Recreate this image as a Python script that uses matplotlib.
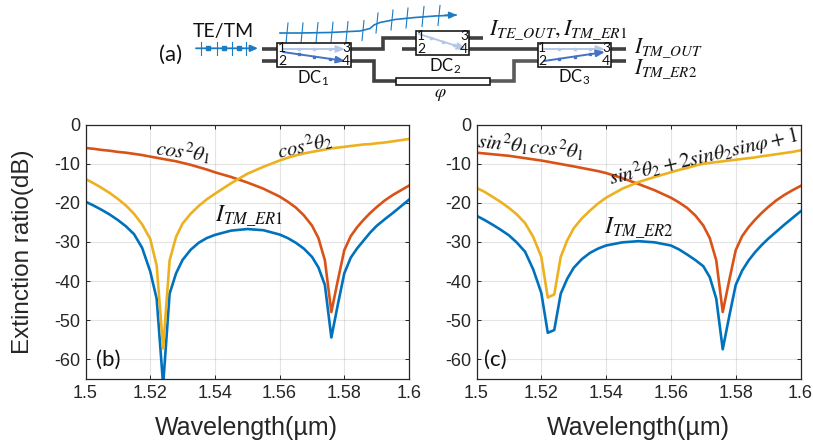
import matplotlib
matplotlib.use('Agg')
import matplotlib.pyplot as plt
from matplotlib.patches import Rectangle

plt.rcParams['font.family'] = ['Liberation Sans', 'DejaVu Sans']
plt.rcParams['axes.unicode_minus'] = False
plt.rcParams['mathtext.fontset'] = 'stix'

W, H = 813, 445

wavelength = [1.5, 1.5025, 1.505, 1.5075, 1.51, 1.5125, 1.515, 1.5175, 1.52, 1.522, 1.524, 1.526, 1.528, 1.53,
              1.5325, 1.535, 1.5375, 1.54, 1.545, 1.55, 1.555, 1.56, 1.5625, 1.565, 1.5675, 1.57,
              1.572, 1.574, 1.576, 1.578, 1.58, 1.582, 1.584, 1.586, 1.588, 1.59, 1.5925, 1.595, 1.5975, 1.6]

blue_b = [-19.7, -20.7, -21.8, -23, -24.4, -26, -28, -31.5, -37.5, -44.5, -66.5, -43.2, -38, -34.6,
          -32, -30.2, -29, -28.2, -27.1, -26.7, -27, -28.1, -29, -30.2, -31.7, -33.8,
          -36.5, -41, -54.4, -46, -38, -34, -31.6, -29.6, -27.6, -25.9, -24.2, -22.6, -20.9, -19.2]
orange_b = [-6, -6.2, -6.5, -6.7, -7, -7.2, -7.5, -7.8, -8.2, -8.5, -8.8, -9.1, -9.4, -9.8,
            -10.3, -10.9, -11.5, -12.2, -13.4, -14.8, -16.4, -18.4, -19.7, -21.2, -23.2, -25.8,
            -29, -34.7, -47.9, -39.8, -32.1, -28.5, -26.2, -24.3, -22.6, -21.1, -19.4, -18, -16.8, -15.6]
yellow_b = [-13.9, -15, -16.2, -17.5, -19, -20.7, -22.8, -25.5, -29.2, -36, -57.2, -34.7, -28.7, -25.3,
            -22.8, -20.8, -19.1, -17.7, -15, -12.6, -10.8, -9.2, -8.5, -7.9, -7.4, -7,
            -6.7, -6.4, -6.1, -5.9, -5.7, -5.5, -5.3, -5.1, -5, -4.8, -4.6, -4.3, -4, -3.7]

blue_c = [-23.3, -24.4, -25.6, -26.9, -28.3, -30.2, -32.5, -37, -43, -53.2, -52.5, -43.2, -39.4, -36.6,
          -34.4, -32.8, -31.7, -30.9, -30.1, -29.8, -30.1, -30.9, -31.9, -33.2, -34.6, -36.2,
          -39, -44.5, -57.4, -49, -41, -37.3, -34.7, -32.6, -30.8, -29.2, -27.4, -25.6, -23.9, -22.2]
orange_c = [-7.2, -7.4, -7.6, -7.8, -8, -8.3, -8.6, -8.9, -9.2, -9.5, -9.8, -10.1, -10.4, -10.7,
            -11.1, -11.5, -11.9, -12.4, -13.7, -15.2, -16.8, -18.7, -19.9, -21.3, -23.2, -25.8,
            -29, -34.7, -47.9, -39.8, -32.1, -28.5, -26.2, -24.3, -22.6, -21.1, -19.4, -18, -16.8, -15.7]
yellow_c = [-16.2, -17.2, -18.5, -19.8, -21.3, -23, -25.2, -28.7, -33.8, -44.2, -43.4, -33.8, -29.6, -26.5,
            -24, -22, -20.2, -18.7, -16.4, -14.7, -13.4, -12.2, -11.6, -11.1, -10.5, -10,
            -9.8, -9.6, -9.4, -9.2, -9, -8.8, -8.6, -8.4, -8.1, -7.9, -7.6, -7.3, -7, -6.6]

x_ticks = [1.5, 1.52, 1.54, 1.56, 1.58, 1.6]
x_tick_labels = ['1.5', '1.52', '1.54', '1.56', '1.58', '1.6']
y_ticks = [0, -10, -20, -30, -40, -50, -60]

BLUE = '#0072BD'
ORANGE = '#D95319'
YELLOW = '#EDB120'
DARK = '#404040'
WAVE = '#1B7CC4'
LIGHT = '#B4C7E7'
MID = '#4472C4'

fig = plt.figure(figsize=(W / 100, H / 100), dpi=100)


def make_axes(left, right, blue, orange, yellow):
    ax = fig.add_axes([left / W, 1 - 379 / H, (right - left) / W, (379 - 124.5) / H])
    ax.plot(wavelength, blue, color=BLUE, lw=1.9)
    ax.plot(wavelength, orange, color=ORANGE, lw=1.9)
    ax.plot(wavelength, yellow, color=YELLOW, lw=1.9)
    ax.set_xlim(1.5, 1.6)
    ax.set_ylim(-65, 0)
    ax.set_xticks(x_ticks)
    ax.set_xticklabels(x_tick_labels)
    ax.set_yticks(y_ticks)
    ax.grid(True, color='#262626', alpha=0.12, lw=0.8)
    ax.set_axisbelow(True)
    ax.tick_params(direction='in', top=True, right=True, length=3, width=0.7, color='#262626',
                   labelcolor='#262626', labelsize=13, pad=4)
    for s in ax.spines.values():
        s.set_color('#262626')
        s.set_linewidth(0.9)
    return ax


make_axes(85.5, 409, blue_b, orange_b, yellow_b)
make_axes(476.5, 800.5, blue_c, orange_c, yellow_c)

# overlay in pixels for the schematic and labels
ov = fig.add_axes([0, 0, 1, 1], facecolor='none')
ov.set_xlim(0, W)
ov.set_ylim(H, 0)
ov.axis('off')


def wire(xs, ys, color=DARK, lw=2.6):
    ov.plot(xs, ys, color=color, lw=lw, solid_joinstyle='miter', solid_capstyle='butt', zorder=2)


def box(x0, x1, y0, y1):
    ov.add_patch(Rectangle((x0, y0), x1 - x0, y1 - y0, fc='white', ec='#1a1a1a', lw=1.2, zorder=3))


def arrow(x0, y0, x1, y1, color):
    ov.annotate('', xy=(x1, y1), xytext=(x0, y0), zorder=5,
                arrowprops=dict(arrowstyle='-|>,head_width=0.2,head_length=0.5', color=color, lw=1.4,
                                shrinkA=0, shrinkB=0))
    for f in [0.25, 0.5, 0.75]:
        ov.plot(x0 + (x1 - x0) * f, y0 + (y1 - y0) * f, 's', color=color, ms=2, zorder=5)


def lab(x, y, s, size=12, family='Lato', rot=0, color='#111111'):
    ov.text(x, y, s, fontsize=size, family=family, rotation=rot, ha='center', va='center',
            color=color, zorder=6, rotation_mode='anchor')


# wires
wire([262, 277], [48.7, 48.7])
wire([262, 277], [60.5, 60.5])
wire([350, 383, 383, 416], [48.7, 48.7, 38, 38])
wire([402, 416], [48.7, 48.7])
wire([469, 483], [37.7, 37.7])
wire([469, 538], [48.7, 48.7])
wire([350, 373.5, 373.5, 396], [60.5, 60.5, 81, 81])
wire([489, 513.5, 513.5, 538], [81, 81, 60.5, 60.5], color='#5a5a5a')
wire([610, 626], [48.7, 48.7])
wire([610, 626], [60.7, 60.7])

box(277, 350.5, 42.5, 67.3)
box(415.7, 469.3, 30.7, 55)
box(537.5, 611, 42.5, 67.3)
box(396, 489.5, 77.5, 85)

arrow(283, 49, 345, 49, LIGHT)
arrow(283, 52, 345, 61, MID)
arrow(419, 34, 466, 49, LIGHT)
arrow(544, 49, 605, 49, LIGHT)
arrow(544, 61, 605, 52, MID)

# port numbers
for x0, x1, ytop, ybot in [(282, 346, 48.5, 61), (421, 464, 36, 49), (542, 606, 48.5, 61)]:
    lab(x0, ytop, '1', 10)
    lab(x0, ybot, '2', 10)
    lab(x1, ytop, '3', 10)
    lab(x1, ybot, '4', 10)

# TE/TM input wave
ov.annotate('', xy=(258, 48.3), xytext=(196, 48.3),
            arrowprops=dict(arrowstyle='-|>,head_width=0.2,head_length=0.45', color=WAVE, lw=1.3,
                            shrinkA=0, shrinkB=0))
for x in [201, 217, 232, 246]:
    ov.plot([x, x], [41.5, 55], color=WAVE, lw=0.8)
for x in [208, 224, 239]:
    ov.plot(x, 48.3, 's', color=WAVE, ms=2.2)

# TE wave running over the top
wave_x = [280, 300, 330, 360, 370, 374, 380, 395, 415, 435, 447, 456]
wave_y = [33, 33, 32.5, 31, 28.5, 25, 22.5, 19.5, 17.5, 16, 15.5, 15]
ov.plot(wave_x, wave_y, color=WAVE, lw=1.2)
ov.annotate('', xy=(457, 15), xytext=(445, 15.3),
            arrowprops=dict(arrowstyle='-|>,head_width=0.2,head_length=0.45', color=WAVE, lw=1.2,
                            shrinkA=0, shrinkB=0))
tick_x = [287, 302, 317, 332, 347, 363, 377, 392, 407, 423, 439]
tick_y = [33, 33, 32.6, 32.2, 31.6, 30.5, 23, 20, 18, 16.5, 15.5]
for x, y in zip(tick_x, tick_y):
    ov.plot([x - 1, x + 1], [y + 10, y - 10], color=WAVE, lw=0.8)

lab(171, 55, '(a)', 16)
lab(223, 31, 'TE/TM', 14)
lab(313, 78, r'DC$_\mathregular{1}$', 12)
lab(445, 66, r'DC$_\mathregular{2}$', 12)
lab(574, 77, r'DC$_\mathregular{3}$', 12)
lab(440, 95, r'$\varphi$', 13)
lab(558, 30, r'$I_{TE\_OUT},I_{TM\_ER1}$', 16, family='Liberation Serif')
lab(668, 47.5, r'$I_{TM\_OUT}$', 15.5, family='Liberation Serif')
lab(666, 68.5, r'$I_{TM\_ER2}$', 15.5, family='Liberation Serif')

# curve labels
lab(183, 152, r'$cos^2\theta_1$', 15, rot=-8)
lab(305, 146, r'$cos^2\theta_2$', 15, rot=13)
lab(249, 216, r'$I_{TM\_ER1}$', 17)
lab(531, 147, r'$sin^2\theta_1cos^2\theta_1$', 15, rot=-6)
lab(703, 157, r'$sin^2\theta_2+2sin\theta_2sin\varphi+1$', 15, rot=13)
lab(639, 228, r'$I_{TM\_ER2}$', 17)

lab(108, 360, '(b)', 16)
lab(495, 360, '(c)', 16)

lab(23, 252, 'Extinction ratio(dB)', 17.5, family='Liberation Sans', rot=90, color='#262626')
lab(246, 428, 'Wavelength(\u00b5m)', 18, family='Liberation Sans', color='#262626')
lab(638, 428, 'Wavelength(\u00b5m)', 18, family='Liberation Sans', color='#262626')

fig.savefig('out.png', dpi=100)
